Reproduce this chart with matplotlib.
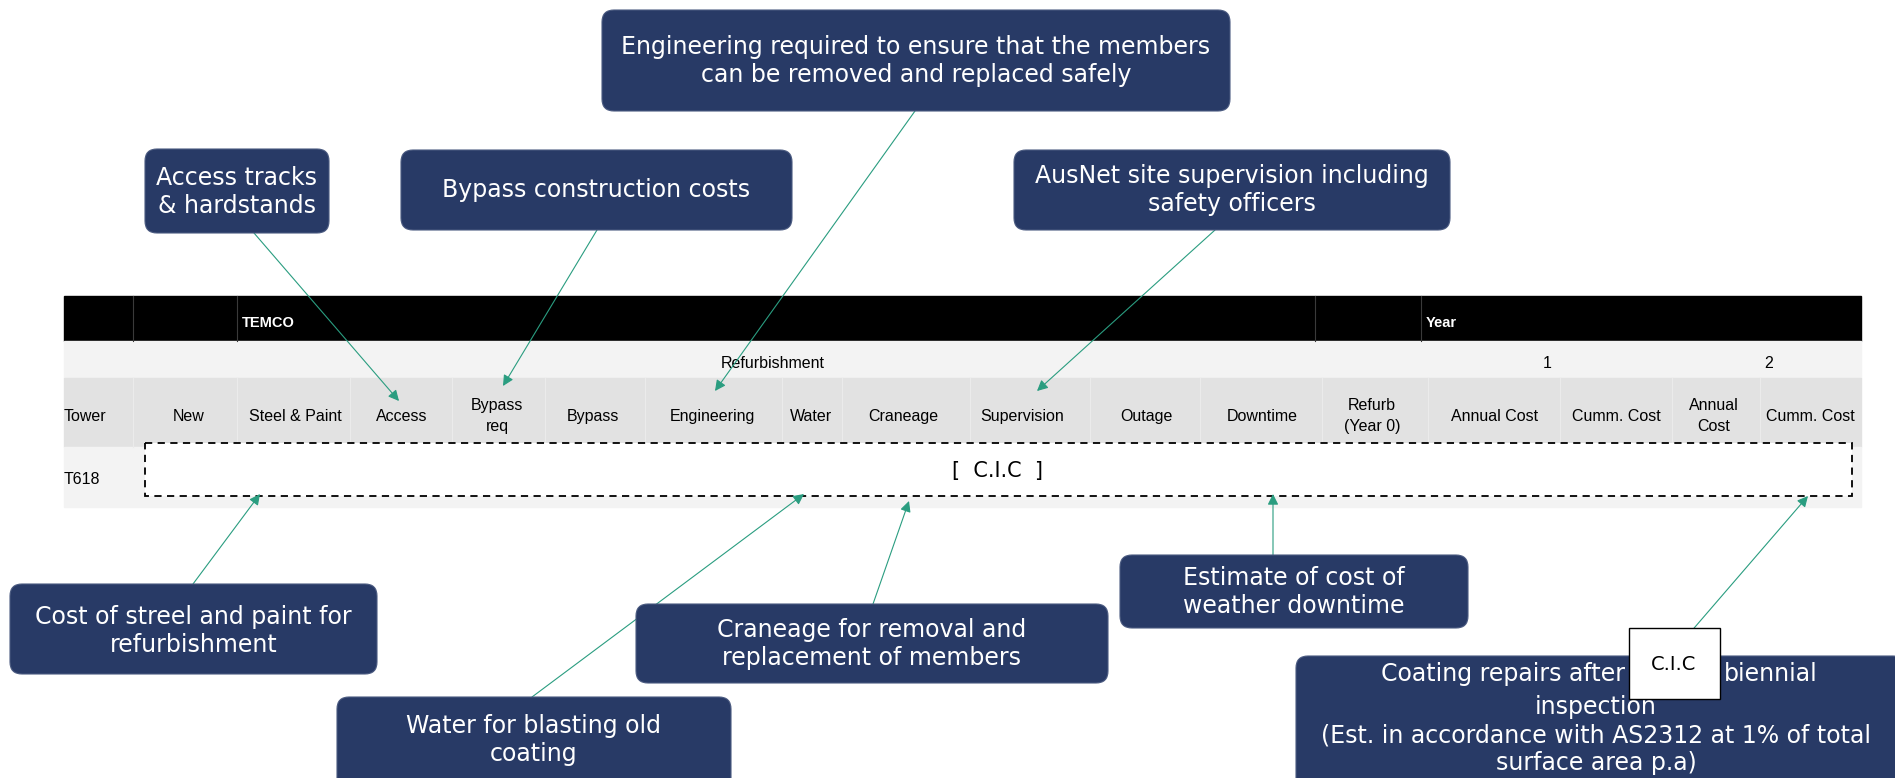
import matplotlib.pyplot as plt
from matplotlib.patches import FancyBboxPatch, Rectangle

NAVY = "#283a66"
TEAL = "#2a9d80"

plt.rcParams.update({
    "font.family": ["DejaVu Sans"],
})
TABLE_FONT = ["Liberation Sans Narrow", "Liberation Sans", "DejaVu Sans"]

# table content
header_labels = ["TEMCO", "Year"]
group_labels = ["Refurbishment", "1", "2"]
columns = ["Tower", "New", "Steel & Paint", "Access", "Bypass\nreq", "Bypass",
           "Engineering", "Water", "Craneage", "Supervision", "Outage",
           "Downtime", "Refurb\n(Year 0)", "Annual Cost", "Cumm. Cost",
           "Annual\nCost", "Cumm. Cost"]
row_label = "T618"
hidden_text = "[  C.I.C  ]"

# callout texts
callouts = [
    "Engineering required to ensure that the members\ncan be removed and replaced safely",
    "Access tracks\n& hardstands",
    "Bypass construction costs",
    "AusNet site supervision including\nsafety officers",
    "Cost of streel and paint for\nrefurbishment",
    "Estimate of cost of\nweather downtime",
    "Craneage for removal and\nreplacement of members",
    "Water for blasting old\ncoating",
    "",
]
coating_head = ["Coating repairs after", "biennial"]
coating_rest = "inspection\n(Est. in accordance with AS2312 at 1% of total\nsurface area p.a)"

# layout (pixel coordinates)
col_x = [64, 189, 295, 402, 497, 593, 712, 811, 903, 1022, 1146, 1262,
         1372, 1495, 1616, 1714, 1810]
header_x = [242, 1426]
group_x = [773, 1547, 1769]
boxes = [  # x0, y0, x1, y1
    (602, 10, 1230, 111),
    (145, 149, 329, 233),
    (401, 150, 792, 230),
    (1014, 150, 1450, 230),
    (10, 584, 377, 674),
    (1120, 555, 1468, 628),
    (636, 604, 1108, 683),
    (337, 697, 731, 790),
    (1296, 656, 1905, 790),
]
text_y = [61, 192, 190, 190, 631, 592, 644, 740, 719]
arrows = [  # start, end
    ((915, 111), (715, 391)),
    ((254, 233), (399, 401)),
    ((597, 230), (503, 386)),
    ((1215, 230), (1037, 391)),
    ((193, 584), (260, 494)),
    ((532, 697), (804, 494)),
    ((873, 604), (909, 501)),
    ((1273, 555), (1273, 494)),
    ((1670, 656), (1808, 496)),
]

fig = plt.figure(figsize=(18.95, 7.78), dpi=100)
ax = fig.add_axes([0, 0, 1, 1])
ax.set_xlim(0, 1895)
ax.set_ylim(778, 0)
ax.axis("off")

# table background rows
ax.add_patch(Rectangle((64, 296), 1797, 45, color="black", zorder=1))
ax.add_patch(Rectangle((64, 341), 1797, 37, color="#f3f3f3", zorder=1))
ax.add_patch(Rectangle((64, 378), 1797, 69, color="#e2e2e2", zorder=1))
ax.add_patch(Rectangle((64, 447), 1797, 60, color="#f3f3f3", zorder=1))
for xs in [133, 237, 1315, 1421]:
    ax.plot([xs, xs], [296, 341], color="#3a3a3a", lw=0.8, zorder=2)
for xs in [133, 237, 350, 452, 545, 645, 782, 842, 970, 1090, 1200, 1322,
           1428, 1560, 1672, 1760]:
    ax.plot([xs, xs], [378, 447], color="#ebebeb", lw=0.8, zorder=2)

for lbl, x in zip(header_labels, header_x):
    ax.text(x, 323, lbl, color="white", fontsize=10.5, fontweight="bold",
            family=TABLE_FONT, va="center", ha="left", zorder=3)
for lbl, x in zip(group_labels, group_x):
    ax.text(x, 363, lbl, color="black", fontsize=11.5, family=TABLE_FONT,
            va="center", ha="center", zorder=3)
for i, (lbl, x) in enumerate(zip(columns, col_x)):
    ax.text(x, 416, lbl, color="black", fontsize=11.5, family=TABLE_FONT,
            va="center", ha="left" if i == 0 else "center",
            multialignment="center", linespacing=1.45, zorder=3)
ax.text(64, 479, row_label, color="black", fontsize=11.5, family=TABLE_FONT,
        va="center", ha="left", zorder=3)

# dashed cover box
ax.add_patch(Rectangle((145, 443), 1707, 53, facecolor="white",
                       edgecolor="black", lw=1.3, ls=(0, (4, 3)), zorder=4))
ax.text(998, 471, hidden_text, fontsize=15, color="black", va="center",
        ha="center", zorder=5)

# callout boxes
for (x0, y0, x1, y1), txt, ty in zip(boxes, callouts, text_y):
    ax.add_patch(FancyBboxPatch((x0, y0), x1 - x0, y1 - y0,
                                boxstyle="round,pad=0,rounding_size=12",
                                facecolor=NAVY, edgecolor="#4a5a80", lw=0.8,
                                zorder=6))
    if txt:
        ax.text((x0 + min(x1, 1895)) / 2, ty, txt, color="white", fontsize=17,
                ha="center", va="center", multialignment="center",
                linespacing=1.2, zorder=7)

# coating callout: first line is split around the white label box
ax.text(1625, 674, coating_head[0], color="white", fontsize=17,
        ha="right", va="center", zorder=7)
ax.text(1724, 674, coating_head[1], color="white", fontsize=17,
        ha="left", va="center", zorder=7)
ax.text(1596, 735, coating_rest, color="white", fontsize=17,
        ha="center", va="center", multialignment="center",
        linespacing=1.2, zorder=7)

# arrows
for (x0, y0), (x1, y1) in arrows:
    ax.annotate("", xy=(x1, y1), xytext=(x0, y0),
                arrowprops=dict(arrowstyle="-|>", color=TEAL, lw=0.8,
                                mutation_scale=16, shrinkA=0, shrinkB=0),
                zorder=5)

# small white label box
ax.add_patch(Rectangle((1629, 628), 91, 71, facecolor="white",
                       edgecolor="black", lw=1.0, zorder=8))
ax.text(1674, 664, "C.I.C", fontsize=14, color="black", ha="center",
        va="center", zorder=9)

fig.savefig("out.png", dpi=100)
